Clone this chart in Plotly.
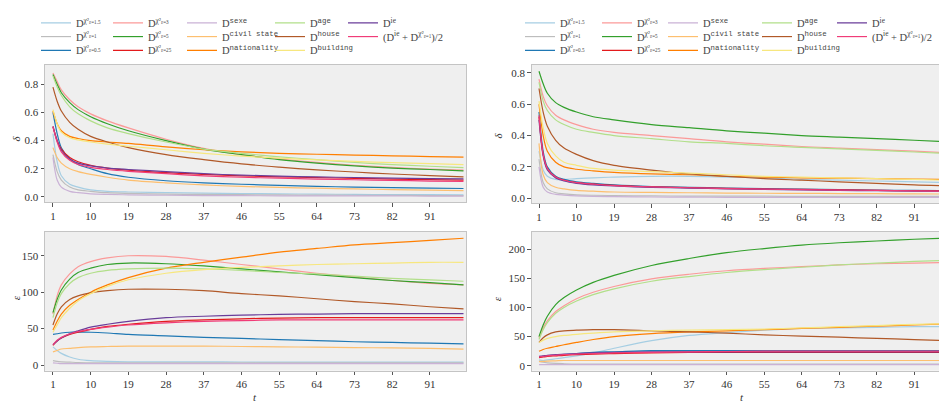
import plotly.graph_objects as go

t = [1, 2, 3, 5, 7, 10, 14, 19, 28, 37, 46, 55, 64, 73, 82, 91, 99]

labels = [
    "D<sup>χ²<sub>ε=1.5</sub></sup>",
    "D<sup>χ²<sub>ε=1</sub></sup>",
    "D<sup>χ²<sub>ε=0.5</sub></sup>",
    "D<sup>χ²<sub>ε=3</sub></sup>",
    "D<sup>χ²<sub>ε=5</sub></sup>",
    "D<sup>χ²<sub>ε=25</sub></sup>",
    "D<sup><span style='font-family:Liberation Mono'>sexe</span></sup>",
    "D<sup><span style='font-family:Liberation Mono'>civil state</span></sup>",
    "D<sup><span style='font-family:Liberation Mono'>nationality</span></sup>",
    "D<sup><span style='font-family:Liberation Mono'>age</span></sup>",
    "D<sup><span style='font-family:Liberation Mono'>house</span></sup>",
    "D<sup><span style='font-family:Liberation Mono'>building</span></sup>",
    "D<sup>ie</sup>",
    "(D<sup>ie</sup> + D<sup>χ²<sub>ε=1</sub></sup>)/2",
]
colors = ["#a6cee3", "#bdbdbd", "#1f78b4", "#fb9a99", "#33a02c", "#e31a1c", "#cab2d6",
          "#fdbf6f", "#ff7f00", "#b2df8a", "#b15928", "#f7e77f", "#6a3d9a", "#f03c78"]

# left column, delta
delta_left = [
    [0.45, 0.25, 0.15, 0.09, 0.07, 0.05, 0.04, 0.035, 0.03, 0.027, 0.024, 0.022, 0.02, 0.018, 0.017, 0.016, 0.015],
    [0.3, 0.18, 0.12, 0.07, 0.05, 0.04, 0.03, 0.025, 0.02, 0.018, 0.016, 0.014, 0.013, 0.012, 0.011, 0.01, 0.01],
    [0.6, 0.45, 0.35, 0.27, 0.23, 0.2, 0.165, 0.14, 0.115, 0.1, 0.09, 0.082, 0.075, 0.07, 0.066, 0.062, 0.06],
    [0.88, 0.82, 0.76, 0.69, 0.64, 0.59, 0.54, 0.49, 0.41, 0.345, 0.3, 0.27, 0.245, 0.225, 0.21, 0.198, 0.19],
    [0.87, 0.8, 0.74, 0.67, 0.62, 0.57, 0.52, 0.47, 0.4, 0.34, 0.3, 0.265, 0.24, 0.22, 0.205, 0.195, 0.185],
    [0.5, 0.4, 0.34, 0.28, 0.25, 0.225, 0.205, 0.19, 0.172, 0.16, 0.15, 0.143, 0.137, 0.132, 0.127, 0.123, 0.12],
    [0.28, 0.12, 0.07, 0.04, 0.03, 0.022, 0.018, 0.015, 0.012, 0.01, 0.009, 0.008, 0.008, 0.007, 0.007, 0.006, 0.006],
    [0.35, 0.28, 0.24, 0.2, 0.18, 0.16, 0.14, 0.12, 0.1, 0.085, 0.075, 0.068, 0.062, 0.057, 0.052, 0.048, 0.045],
    [0.61, 0.52, 0.47, 0.43, 0.415, 0.4, 0.39, 0.38, 0.355, 0.335, 0.32, 0.31, 0.303, 0.297, 0.292, 0.287, 0.283],
    [0.86, 0.78, 0.72, 0.64, 0.59, 0.54, 0.49, 0.45, 0.39, 0.34, 0.31, 0.285, 0.265, 0.245, 0.23, 0.218, 0.208],
    [0.78, 0.68, 0.61, 0.53, 0.48, 0.43, 0.39, 0.35, 0.3, 0.265, 0.235, 0.212, 0.192, 0.177, 0.163, 0.152, 0.143],
    [0.62, 0.52, 0.46, 0.42, 0.405, 0.39, 0.375, 0.36, 0.335, 0.31, 0.29, 0.275, 0.263, 0.252, 0.243, 0.236, 0.23],
    [0.5, 0.4, 0.33, 0.27, 0.24, 0.22, 0.205, 0.195, 0.18, 0.165, 0.155, 0.148, 0.142, 0.138, 0.134, 0.13, 0.128],
    [0.5, 0.39, 0.32, 0.26, 0.23, 0.21, 0.195, 0.182, 0.165, 0.15, 0.14, 0.133, 0.127, 0.122, 0.118, 0.113, 0.11],
]

# left column, epsilon
eps_left = [
    [25, 20, 16, 11, 8, 6, 5, 4.5, 4.5, 4.3, 4.2, 4.1, 4, 4, 4, 4, 4],
    [6, 5, 4.5, 4, 3.5, 3.2, 3, 3, 3, 3, 3, 3, 3, 3, 3, 3, 3],
    [42, 43, 44, 45, 45, 45, 44, 42, 40, 38, 36.5, 35, 33.5, 32, 31, 30, 29],
    [70, 95, 110, 125, 135, 142, 147, 150, 149, 144, 138, 132, 126, 121, 116, 112, 110],
    [72, 90, 103, 118, 127, 133, 138, 140, 139, 136, 132, 128, 124, 120, 116, 113, 110],
    [27, 33, 37, 42, 45, 49, 53, 56, 60, 62, 63.5, 64.5, 65, 65, 65, 65, 65],
    [3, 2.5, 2, 2, 2, 2, 2, 2, 2, 2, 2, 2, 2, 2, 2, 2, 2],
    [18, 20, 22, 23, 24, 25, 25.5, 26, 26, 26, 25.5, 25, 24.5, 24, 23.5, 23, 22],
    [48, 60, 70, 82, 90, 100, 110, 120, 133, 141, 148, 155, 160, 165, 168, 171, 174],
    [65, 85, 98, 112, 120, 126, 130, 132, 133, 132, 130, 127, 125, 122, 119, 117, 115],
    [55, 70, 80, 90, 95, 99, 102, 104, 104, 102, 98, 95, 91, 87, 84, 80, 77],
    [45, 55, 65, 78, 88, 98, 108, 117, 126, 131, 134, 136, 138, 139, 140, 141, 141],
    [28, 33, 37, 43, 47, 52, 56, 60, 65, 67, 68.5, 69.5, 70, 70.5, 70.5, 70.5, 70.5],
    [28, 34, 38, 43, 46, 49, 52, 55, 58, 60, 61, 62, 62, 62, 62, 62, 62],
]

# right column, delta
delta_right = [
    [0.3, 0.18, 0.14, 0.12, 0.12, 0.125, 0.13, 0.135, 0.14, 0.14, 0.135, 0.13, 0.12, 0.115, 0.11, 0.105, 0.1],
    [0.25, 0.1, 0.06, 0.035, 0.028, 0.022, 0.019, 0.017, 0.015, 0.014, 0.013, 0.013, 0.012, 0.012, 0.012, 0.012, 0.012],
    [0.55, 0.3, 0.2, 0.14, 0.12, 0.105, 0.095, 0.085, 0.075, 0.07, 0.065, 0.062, 0.058, 0.055, 0.052, 0.05, 0.048],
    [0.76, 0.65, 0.59, 0.53, 0.5, 0.47, 0.44, 0.42, 0.4, 0.38, 0.36, 0.345, 0.33, 0.32, 0.31, 0.3, 0.29],
    [0.81, 0.73, 0.67, 0.61, 0.58, 0.55, 0.52, 0.5, 0.47, 0.45, 0.43, 0.415, 0.4, 0.39, 0.38, 0.37, 0.36],
    [0.52, 0.28, 0.19, 0.135, 0.115, 0.1, 0.09, 0.082, 0.073, 0.068, 0.063, 0.059, 0.056, 0.053, 0.05, 0.048, 0.046],
    [0.2, 0.07, 0.04, 0.025, 0.02, 0.015, 0.012, 0.01, 0.008, 0.007, 0.006, 0.006, 0.005, 0.005, 0.005, 0.005, 0.005],
    [0.35, 0.15, 0.1, 0.07, 0.06, 0.05, 0.045, 0.04, 0.037, 0.035, 0.033, 0.032, 0.031, 0.03, 0.029, 0.028, 0.027],
    [0.6, 0.4, 0.3, 0.23, 0.2, 0.185, 0.175, 0.165, 0.155, 0.15, 0.14, 0.135, 0.13, 0.128, 0.125, 0.122, 0.12],
    [0.74, 0.62, 0.56, 0.5, 0.47, 0.44, 0.42, 0.4, 0.38, 0.36, 0.35, 0.335, 0.325, 0.315, 0.305, 0.295, 0.285],
    [0.7, 0.55, 0.46, 0.37, 0.32, 0.28, 0.24, 0.21, 0.18, 0.155, 0.14, 0.125, 0.115, 0.105, 0.095, 0.085, 0.08],
    [0.62, 0.45, 0.35, 0.27, 0.23, 0.21, 0.19, 0.18, 0.17, 0.16, 0.15, 0.14, 0.135, 0.13, 0.125, 0.12, 0.115],
    [0.5, 0.27, 0.18, 0.13, 0.11, 0.095, 0.085, 0.078, 0.07, 0.065, 0.06, 0.056, 0.053, 0.05, 0.048, 0.046, 0.044],
    [0.53, 0.28, 0.19, 0.135, 0.115, 0.1, 0.09, 0.08, 0.072, 0.067, 0.062, 0.058, 0.055, 0.052, 0.05, 0.047, 0.045],
]

# right column, epsilon
eps_right = [
    [10, 9, 10, 12, 14, 17, 22, 30, 43, 52, 57, 61, 64, 65, 66, 67, 67],
    [8, 6, 5, 4, 3.5, 3, 3, 3, 3, 3, 3, 3, 3, 3, 3, 3, 3],
    [15, 16, 17, 18, 19, 21, 23, 24, 26, 26, 26, 26, 26, 26, 26, 26, 26],
    [48, 65, 77, 93, 103, 115, 126, 136, 149, 157, 163, 167, 170, 173, 175, 176, 177],
    [50, 70, 85, 105, 117, 130, 143, 155, 172, 184, 194, 201, 207, 211, 214, 217, 219],
    [14, 15, 16, 17, 18, 19, 20, 21, 22, 23, 23, 23, 23, 23, 23, 23, 23],
    [2, 2, 2, 2, 2, 2, 2, 2, 2, 2, 2, 2, 2, 2, 2, 2, 2],
    [7, 7.5, 8, 8.5, 9, 9, 9, 9, 9, 9, 9, 9, 9, 9, 9, 9, 9],
    [25, 28, 30, 33, 36, 40, 45, 50, 55, 58, 60, 62, 64, 66, 68, 70, 72],
    [45, 62, 74, 90, 100, 111, 122, 132, 145, 153, 160, 165, 169, 173, 176, 179, 181],
    [40, 48, 53, 58, 60, 61, 62, 62, 60, 58, 56, 53, 51, 49, 47, 45, 43],
    [40, 44, 47, 50, 52, 54, 56, 58, 60, 61, 62, 63, 65, 67, 69, 71, 72],
    [16, 17, 18, 19, 20, 21, 22, 23, 24, 24, 24, 24, 24, 24, 24, 24, 24],
    [15, 16, 17, 18, 19, 20, 21, 22, 23, 24, 24.5, 25, 25, 25, 25, 25, 25],
]

x_ticks = [1, 10, 19, 28, 37, 46, 55, 64, 73, 82, 91]

OFF = 8            # default page margin of the html body
W, H = 947 - OFF, 403 - OFF
FONT = "'Liberation Serif', 'DejaVu Serif', serif"

fig = go.Figure()

panels = [
    (delta_left, "x", "y", True, 0),
    (eps_left, "x2", "y2", False, 0),
    (delta_right, "x3", "y3", True, 1),
    (eps_right, "x4", "y4", False, 1),
]
for data, xa, ya, show, side in panels:
    for i, vals in enumerate(data):
        lg_idx = side * 14 + i + 1
        lg = "legend" if lg_idx == 1 else f"legend{lg_idx}"
        fig.add_trace(go.Scatter(
            x=t, y=vals, mode="lines", name=labels[i],
            line=dict(color=colors[i], width=1.2, shape="spline", smoothing=0.9),
            xaxis=xa, yaxis=ya, showlegend=show, legend=lg, hoverinfo="skip",
        ))


def px_x(p):
    return (p - OFF) / W


def px_y(p):
    return 1 - (p - OFF) / H


axis_common = dict(
    showgrid=False, zeroline=False, showline=True, mirror=True,
    linecolor="#c4c4c4", linewidth=1, ticks="outside", ticklen=3.5,
    tickcolor="#555555", tickwidth=0.8,
    tickfont=dict(family=FONT, size=11, color="#333333"),
)

layout = dict(
    width=W, height=H, margin=dict(l=0, r=0, t=0, b=0),
    paper_bgcolor="white", plot_bgcolor="#efefef",
    xaxis=dict(domain=[px_x(45), px_x(466)], range=[-0.9, 99.6], anchor="y",
               tickvals=x_ticks, **axis_common),
    yaxis=dict(domain=[px_y(198), px_y(58)], range=[-0.037, 0.937], anchor="x",
               tickvals=[0, 0.2, 0.4, 0.6, 0.8], ticktext=["0.0", "0.2", "0.4", "0.6", "0.8"],
               **axis_common),
    xaxis2=dict(domain=[px_x(45), px_x(466)], range=[-0.9, 99.6], anchor="y2",
                tickvals=x_ticks, **axis_common),
    yaxis2=dict(domain=[px_y(370), px_y(228.3)], range=[-7.7, 182.8], anchor="x2",
                tickvals=[0, 50, 100, 150], **axis_common),
    xaxis3=dict(domain=[px_x(531.7), 1.0], range=[-0.75, 98.85], anchor="y3",
                tickvals=x_ticks, **axis_common),
    yaxis3=dict(domain=[px_y(199.3), px_y(57.7)], range=[-0.033, 0.852], anchor="x3",
                tickvals=[0, 0.2, 0.4, 0.6, 0.8], ticktext=["0.0", "0.2", "0.4", "0.6", "0.8"],
                **axis_common),
    xaxis4=dict(domain=[px_x(531.7), 1.0], range=[-0.75, 98.85], anchor="y4",
                tickvals=x_ticks, **axis_common),
    yaxis4=dict(domain=[px_y(370), px_y(228.3)], range=[-8.4, 229.7], anchor="x4",
                tickvals=[0, 50, 100, 150, 200], **axis_common),
)

# page x where each legend column's text starts, and row centres
text_x = [[76, 148, 222, 310, 383], [560, 637, 703, 797, 872]]
row_y = [15, 29, 43]
for side in range(2):
    for i in range(14):
        col, row = i // 3, i % 3
        lg_idx = side * 14 + i + 1
        lg = "legend" if lg_idx == 1 else f"legend{lg_idx}"
        layout[lg] = dict(
            x=px_x(text_x[side][col] - 40), y=px_y(row_y[row]),
            xanchor="left", yanchor="middle", bgcolor="rgba(0,0,0,0)",
            borderwidth=0, itemwidth=30, tracegroupgap=0,
            font=dict(family=FONT, size=10.5, color="#444444"),
        )

ann = []


def label(text, x, y, angle=0):
    ann.append(dict(text=text, x=px_x(x), y=px_y(y), xref="paper", yref="paper",
                    xanchor="center", yanchor="middle",
                    showarrow=False, textangle=angle,
                    font=dict(family=FONT, size=11, color="#333333")))


label("<i>δ</i>", 16, 133, -90)
label("<i>ε</i>", 16, 296, -90)
label("<i>δ</i>", 498, 130, -90)
label("<i>ε</i>", 497, 297, -90)
label("<i>t</i>", 255, 397)
label("<i>t</i>", 742, 397)
layout["annotations"] = ann

fig.update_layout(**layout)
fig.write_html("out.html")
